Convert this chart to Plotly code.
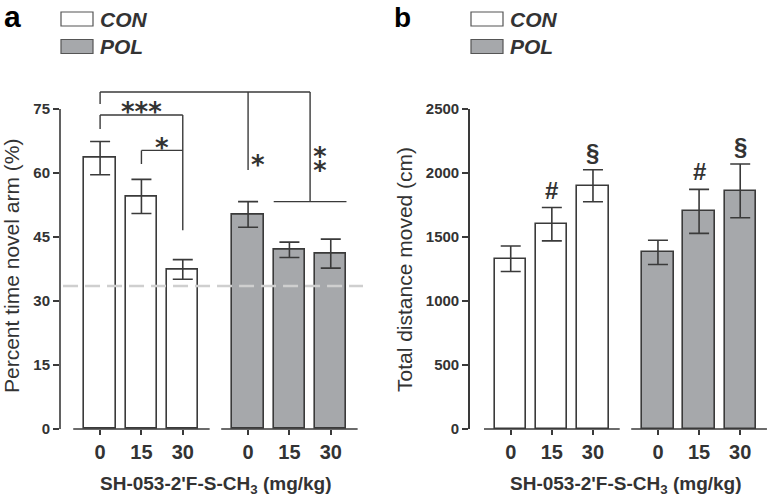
import plotly.graph_objects as go

# ---------------- data ----------------
doses = ["0", "15", "30"]
groups = ["CON", "POL"]

novel_con = [63.5, 54.5, 37.4]
novel_con_sem = [3.9, 4.0, 2.3]
novel_pol = [50.3, 42.0, 41.1]
novel_pol_sem = [3.0, 1.8, 3.4]
chance_level = 33.5

dist_con = [1330, 1600, 1900]
dist_con_sem = [100, 130, 125]
dist_pol = [1380, 1700, 1860]
dist_pol_sem = [95, 172, 210]
dist_marks_con = ["", "#", "§"]
dist_marks_pol = ["", "#", "§"]

yticks_a = [0, 15, 30, 45, 60, 75]
yticks_b = [0, 500, 1000, 1500, 2000, 2500]

# ---------------- layout helpers ----------------
W, H = 771, 499
def fx(px):
    return px / W
def fy(py):
    return 1 - py / H

GROUP_OFFSET = 3.58
pos_con = [i for i in range(len(doses))]
pos_pol = [i + GROUP_OFFSET for i in range(len(doses))]
BAR_W = 0.76
HALF_SEG = 0.65

TXT = "#333333"
LINE = "#3a3a3a"
GRAY = "#a6a8ab"
FONT = "Liberation Sans, Arial, sans-serif"

fig = go.Figure()

def add_bars(x, y, sem, fill, xa, ya):
    fig.add_trace(go.Bar(
        x=x, y=y, width=BAR_W, xaxis=xa, yaxis=ya,
        marker=dict(color=fill, line=dict(color=LINE, width=1.6)),
        error_y=dict(type="data", array=sem, visible=True, color=LINE,
                     thickness=1.6, width=10),
        showlegend=False, hoverinfo="skip"))

add_bars(pos_con, novel_con, novel_con_sem, "white", "x", "y")
add_bars(pos_pol, novel_pol, novel_pol_sem, GRAY, "x", "y")
add_bars(pos_con, dist_con, dist_con_sem, "white", "x2", "y2")
add_bars(pos_pol, dist_pol, dist_pol_sem, GRAY, "x2", "y2")

ticks_pos = pos_con + pos_pol
tick_txt = doses + doses

# axis geometry (pixels)
a_left, a_right = 60, 363
b_left, b_right = 470, 769
y0_px = 429
a_top = y0_px - 80 * (320 / 75)
b_top = 109

common_x = dict(showline=False, showgrid=False, zeroline=False,
                ticks="outside", ticklen=5, tickwidth=1.6, tickcolor=LINE,
                tickvals=ticks_pos, ticktext=tick_txt,
                tickfont=dict(family=FONT, size=20, color=TXT, weight="bold"),
                ticklabelstandoff=0)
common_y = dict(showgrid=False, zeroline=False, ticks="outside", ticklen=6,
                tickwidth=1.6, tickcolor=LINE,
                tickfont=dict(family=FONT, size=15, color=TXT, weight="bold"))

fig.update_layout(
    width=W, height=H, margin=dict(l=0, r=0, t=0, b=0),
    template="none", paper_bgcolor="white", plot_bgcolor="rgba(0,0,0,0)",
    showlegend=False, bargap=0,
    xaxis=dict(domain=[fx(a_left), fx(a_right)],
               range=[-0.97, 6.36], anchor="y", **common_x),
    yaxis=dict(domain=[fy(y0_px), fy(a_top)], range=[0, 80], anchor="x",
               showline=False, tickvals=yticks_a, **common_y),
    xaxis2=dict(domain=[fx(b_left), fx(b_right)],
                range=[-0.99, 6.28], anchor="y2", **common_x),
    yaxis2=dict(domain=[fy(y0_px), fy(b_top)], range=[0, 2500], anchor="x2",
                showline=True, linecolor=LINE, linewidth=1.6,
                tickvals=yticks_b, **common_y),
)

shapes = []
# panel a y axis line (0..75)
shapes.append(dict(type="line", xref="x domain", yref="y", x0=0, x1=0,
                   y0=0, y1=yticks_a[-1], line=dict(color=LINE, width=1.6)))
# baseline segments
for xa, ya in (("x", "y"), ("x2", "y2")):
    for grp in (pos_con, pos_pol):
        shapes.append(dict(type="line", xref=xa, yref=ya + " domain",
                           x0=grp[0] - HALF_SEG, x1=grp[-1] + HALF_SEG,
                           y0=0, y1=0, line=dict(color=LINE, width=1.6)))
# chance line
shapes.append(dict(type="line", xref="x domain", yref="y", x0=0.01, x1=1,
                   y0=chance_level, y1=chance_level, layer="above",
                   line=dict(color="#cfcfcf", width=2.5, dash="15px,7px")))

def seg(x0, y0, x1, y1):
    shapes.append(dict(type="line", xref="x", yref="y", x0=x0, y0=y0,
                       x1=x1, y1=y1, line=dict(color=LINE, width=1.4)))

# significance brackets, panel a
top_y = 79.0
mid_pol = (pos_pol[1] + pos_pol[2]) / 2
seg(pos_con[0], 76.2, pos_con[0], top_y)
seg(pos_con[0], top_y, mid_pol, top_y)
seg(pos_pol[0], top_y, pos_pol[0], 60.7)
seg(mid_pol, top_y, mid_pol, 53.3)
seg(pos_pol[1] - BAR_W / 2, 53.3, pos_pol[2] + BAR_W / 2, 53.3)
# *** bracket CON 0 vs 30
seg(pos_con[0], 70.3, pos_con[0], 73.6)
seg(pos_con[0], 73.6, pos_con[2], 73.6)
seg(pos_con[2], 73.6, pos_con[2], 46.6)
# * bracket CON 15 vs 30
seg(pos_con[1], 62.1, pos_con[1], 65.3)
seg(pos_con[1], 65.3, pos_con[2], 65.3)

ann = []
STAR = dict(family="DejaVu Sans, sans-serif", size=26, color=TXT, weight="bold")
def star(text, x, y, shift=-5, size=26):
    f = dict(STAR)
    f["size"] = size
    ann.append(dict(text=text, x=x, y=y, xref="x", yref="y", showarrow=False,
                    xanchor="center", yanchor="middle", yshift=shift, font=f))
star("***", (pos_con[0] + pos_con[2]) / 2, 75.5)
star("*", (pos_con[1] + pos_con[2]) / 2, 67.0)
star("*", pos_pol[0] + 0.25, 63.0)
star("\u2051", pos_pol[2] - 0.25, 63.0, shift=-1, size=32)

# panel b marks
for pos, vals, sems, marks in ((pos_con, dist_con, dist_con_sem, dist_marks_con),
                               (pos_pol, dist_pol, dist_pol_sem, dist_marks_pol)):
    for p, v, s, m in zip(pos, vals, sems, marks):
        if m:
            ann.append(dict(text=m, x=p, y=v + s, xref="x2", yref="y2",
                            showarrow=False, xanchor="center", yanchor="bottom",
                            yshift=2, font=dict(family=FONT, size=24, color=TXT,
                                                weight="bold")))

# axis titles
ann.append(dict(text="Percent time novel arm (%)", x=fx(11), y=fy(266),
                xref="paper", yref="paper", textangle=-90, showarrow=False,
                xanchor="center", yanchor="middle",
                font=dict(family=FONT, size=21, color=TXT)))
ann.append(dict(text="Total distance moved (cm)", x=fx(404), y=fy(270),
                xref="paper", yref="paper", textangle=-90, showarrow=False,
                xanchor="center", yanchor="middle",
                font=dict(family=FONT, size=21, color=TXT)))
xtitle = "SH-053-2'F-S-CH<sub>3</sub> (mg/kg)"
for cx in (216, 626):
    ann.append(dict(text=xtitle, x=fx(cx), y=fy(485), xref="paper", yref="paper",
                    showarrow=False, xanchor="center", yanchor="middle",
                    font=dict(family=FONT, size=19, color=TXT, weight="bold")))

# panel letters
ann.append(dict(text="a", x=fx(2), y=fy(16), xref="paper", yref="paper",
                showarrow=False, xanchor="left", yanchor="middle",
                font=dict(family=FONT, size=30, color="black", weight="bold")))
ann.append(dict(text="b", x=fx(392), y=fy(17), xref="paper", yref="paper",
                showarrow=False, xanchor="left", yanchor="middle",
                font=dict(family=FONT, size=28, color="black", weight="bold")))

# legends
legend_shapes = []
for lx in (61, 471):
    for gi, (g, fill) in enumerate(zip(groups, ["white", GRAY])):
        cy = 19 + gi * 27.5
        legend_shapes.append(dict(type="rect", xref="paper", yref="paper",
                                  x0=fx(lx), x1=fx(lx + 32), y0=fy(cy - 7), y1=fy(cy + 7),
                                  fillcolor=fill, line=dict(color="#555555", width=1.2)))
        ann.append(dict(text=g, x=fx(lx + 37), y=fy(cy), xref="paper", yref="paper",
                        showarrow=False, xanchor="left", yanchor="middle",
                        font=dict(family=FONT, size=21, color=TXT, weight="bold",
                                  style="italic")))
fig.update_layout(shapes=shapes + legend_shapes, annotations=ann)

fig.write_html("out.html", config={"displayModeBar": False},
               post_script="document.body.style.margin='0';")
